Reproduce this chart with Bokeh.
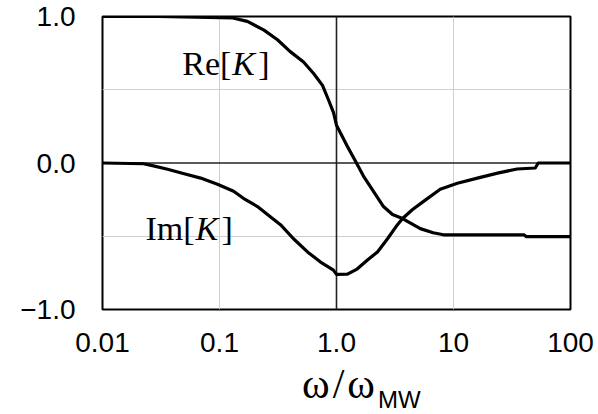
from bokeh.plotting import figure
from bokeh.models import FixedTicker, Span, Label, Div
from bokeh.layouts import column
from bokeh.embed import file_html
from bokeh.resources import INLINE

# Normalised frequency ω/ω_MW and the response K(ω)
w_re = [0.01, 0.03, 0.13, 0.173, 0.24, 0.313, 0.40, 0.523, 0.64, 0.759, 0.855,
        0.943, 1.0, 1.24, 1.45, 1.70, 2.07, 2.52, 3.01, 3.67, 5.2, 6.7, 8.2,
        20, 40, 42, 100]
re_k = [1.0, 1.0, 0.99, 0.967, 0.907, 0.841, 0.762, 0.689, 0.609, 0.530, 0.430,
        0.344, 0.258, 0.113, 0.013, -0.089, -0.193, -0.297, -0.352, -0.379,
        -0.448, -0.476, -0.49, -0.49, -0.49, -0.503, -0.503]

w_im = [0.01, 0.0224, 0.0273, 0.036, 0.049, 0.069, 0.096, 0.132, 0.160, 0.211,
        0.257, 0.332, 0.429, 0.565, 0.730, 0.942, 1.0, 1.24, 1.5, 1.84, 2.24,
        2.73, 3.32, 3.67, 4.47, 5.55, 7.7, 10.8, 16, 23.8, 35, 50, 53, 100]
im_k = [0.0, -0.005, -0.02, -0.043, -0.072, -0.103, -0.145, -0.193, -0.241,
        -0.297, -0.352, -0.421, -0.517, -0.607, -0.676, -0.731, -0.760, -0.759,
        -0.724, -0.662, -0.607, -0.517, -0.421, -0.379, -0.317, -0.262, -0.179,
        -0.138, -0.103, -0.069, -0.041, -0.034, 0.0, 0.0]

x_ticks = [0.01, 0.1, 1, 10, 100]
x_tick_labels = ["0.01", "0.1", "1.0", "10", "100"]
y_ticks = [-1, 0, 1]
y_tick_labels = ["\u22121.0", "0.0", "1.0"]

p = figure(width=598, height=362, x_axis_type="log",
           x_range=(0.01, 100), y_range=(-1, 1),
           output_backend="svg", toolbar_location=None,
           min_border_left=102, min_border_right=28,
           min_border_top=16, min_border_bottom=53)
p.background_fill_color = "white"
p.border_fill_color = "white"
p.outline_line_color = "black"
p.outline_line_width = 2

# axes: labels only, no tick marks
for ax in (p.xaxis, p.yaxis):
    ax.axis_line_color = None
    ax.major_tick_line_color = None
    ax.minor_tick_line_color = None
    ax.major_label_text_font = "Liberation Sans"
    ax.major_label_text_font_size = "28px"
    ax.major_label_text_color = "black"

p.xaxis.ticker = FixedTicker(ticks=x_ticks)
p.xaxis.major_label_overrides = dict(zip(x_ticks, x_tick_labels))
p.xaxis.major_label_standoff = 17
p.yaxis.ticker = FixedTicker(ticks=y_ticks)
p.yaxis.major_label_overrides = dict(zip(y_ticks, y_tick_labels))
p.yaxis.major_label_standoff = 21

# light grid at 0.1 / 10 and ±0.5
p.xgrid.ticker = FixedTicker(ticks=[0.1, 10])
p.ygrid.ticker = FixedTicker(ticks=[-0.5, 0.5])
p.grid.grid_line_color = "#cfcfcf"
p.grid.grid_line_width = 1

# dark reference lines at ω = ω_MW and K = 0
p.add_layout(Span(location=1, dimension="height", line_color="#222222",
                  line_width=1.6, level="underlay"))
p.add_layout(Span(location=0, dimension="width", line_color="#222222",
                  line_width=1.6, level="underlay"))

p.line(w_re, re_k, line_color="black", line_width=3.2, line_join="round")
p.line(w_im, im_k, line_color="black", line_width=3.2, line_join="round")

serif = "Liberation Serif"


def curve_label(x, y, name):
    common = dict(x=x, y=y, text_font=serif, text_font_size="34px",
                  text_baseline="alphabetic", text_color="black")
    p.add_layout(Label(text=name + "[", **common))
    p.add_layout(Label(text="K", x_offset=50, text_font_style="italic", **common))
    p.add_layout(Label(text="]", x_offset=76, **common))


curve_label(0.048, 0.68, "Re")
curve_label(0.0233, -0.447, "Im")

# axis title ω/ω_MW below the plot
title = Div(
    text=('<span style="font-family:\'Liberation Serif\';font-size:42px;'
          'line-height:42px;letter-spacing:3px;">\u03c9/\u03c9</span>'
          '<span style="font-family:\'Liberation Sans\';font-size:24px;'
          'line-height:24px;vertical-align:-10px;">MW</span>'),
    width=296, height=51, margin=(1, 0, 0, 302),
    styles={"line-height": "42px", "color": "black", "white-space": "nowrap"})

layout = column(p, title, spacing=0)

open("out.html", "w").write(file_html(layout, INLINE))
